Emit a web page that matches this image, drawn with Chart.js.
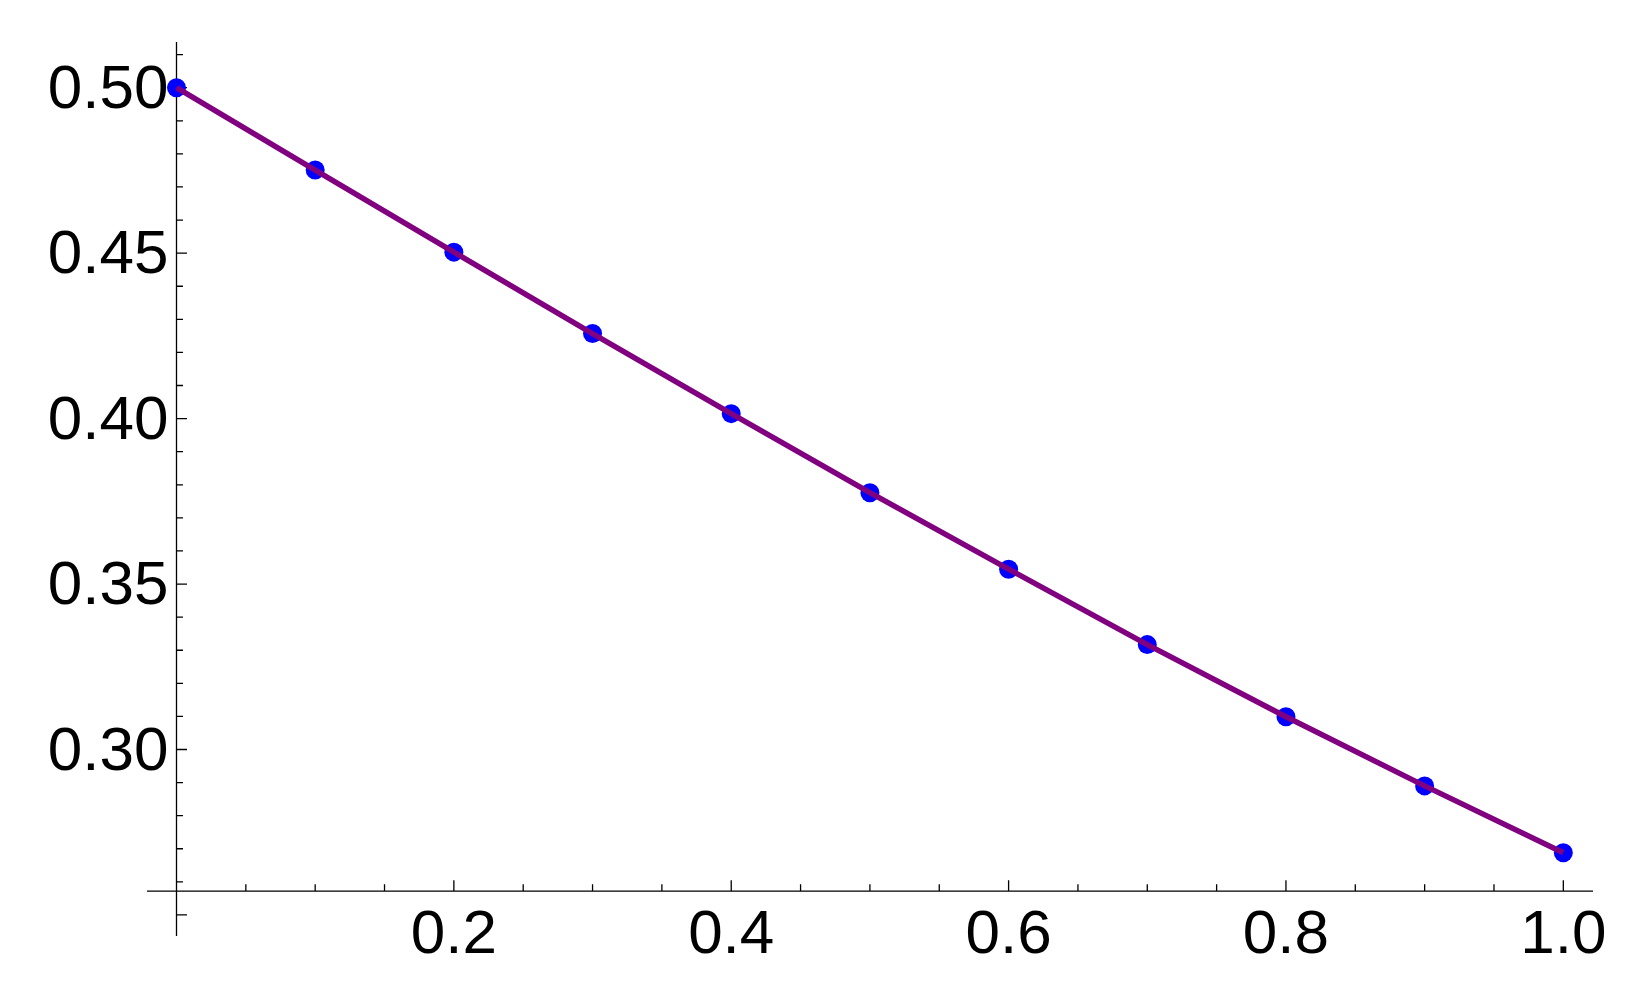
<!DOCTYPE html>
<html>
<head>
<meta charset="utf-8">
<script src="https://cdn.jsdelivr.net/npm/chart.js@4.4.1/dist/chart.umd.min.js"></script>
<style>
  html, body { margin: 0; padding: 0; background: #ffffff; }
  #wrap { width: 1639px; height: 996px; position: relative; }
</style>
</head>
<body>
<div id="wrap"><canvas id="chart"></canvas></div>
<script>
// sample points
const xValues = [0, 0.1, 0.2, 0.3, 0.4, 0.5, 0.6, 0.7, 0.8, 0.9, 1.0];
const yValues = [0.5000, 0.4751, 0.4503, 0.4257, 0.4015, 0.3776, 0.3545, 0.3317, 0.3099, 0.2890, 0.2688];

// axis ticks
const xMajorTicks = [0.2, 0.4, 0.6, 0.8, 1.0];
const xTickLabels = ['0.2', '0.4', '0.6', '0.8', '1.0'];
const xMinorTicks = [0.05, 0.1, 0.15, 0.25, 0.3, 0.35, 0.45, 0.5, 0.55, 0.65, 0.7, 0.75, 0.85, 0.9, 0.95];
const yMajorTicks = [0.25, 0.30, 0.35, 0.40, 0.45, 0.50];
const yTickLabels = ['', '0.30', '0.35', '0.40', '0.45', '0.50'];
const yMinorTicks = [0.26, 0.27, 0.28, 0.29, 0.31, 0.32, 0.33, 0.34, 0.36, 0.37, 0.38, 0.39,
                     0.41, 0.42, 0.43, 0.44, 0.46, 0.47, 0.48, 0.49, 0.51];

// where the two axes cross (Mathematica style)
const axisCrossX = 0;
const axisCrossY = 0.2572;

const points = xValues.map((x, i) => ({ x: x, y: yValues[i] }));

// draws axes, ticks and labels through the chart's own scales
const mathAxes = {
    id: 'mathAxes',
    beforeDatasetsDraw(chart) {
        const { ctx, scales: { x, y } } = chart;
        const ox = x.getPixelForValue(axisCrossX);
        const oy = y.getPixelForValue(axisCrossY);
        ctx.save();
        ctx.strokeStyle = '#000000';
        ctx.lineWidth = 1.3;
        ctx.beginPath();
        ctx.moveTo(x.left, oy);
        ctx.lineTo(x.right, oy);
        ctx.moveTo(ox, y.top);
        ctx.lineTo(ox, y.bottom);

        // x ticks point up into the plot
        xMajorTicks.forEach(v => {
            const px = x.getPixelForValue(v);
            ctx.moveTo(px, oy);
            ctx.lineTo(px, oy - 11);
        });
        xMinorTicks.forEach(v => {
            const px = x.getPixelForValue(v);
            ctx.moveTo(px, oy);
            ctx.lineTo(px, oy - 7);
        });
        // y ticks point right
        yMajorTicks.forEach(v => {
            const py = y.getPixelForValue(v);
            ctx.moveTo(ox, py);
            ctx.lineTo(ox + 10.5, py);
        });
        yMinorTicks.forEach(v => {
            const py = y.getPixelForValue(v);
            ctx.moveTo(ox, py);
            ctx.lineTo(ox + 6.5, py);
        });
        ctx.stroke();

        ctx.fillStyle = '#000000';
        ctx.font = '62px "Liberation Sans", Arial, sans-serif';
        ctx.textBaseline = 'alphabetic';
        ctx.textAlign = 'center';
        xMajorTicks.forEach((v, i) => {
            ctx.fillText(xTickLabels[i], x.getPixelForValue(v), oy + 62);
        });
        ctx.textAlign = 'right';
        yMajorTicks.forEach((v, i) => {
            if (!yTickLabels[i]) return;
            ctx.fillText(yTickLabels[i], ox - 8, y.getPixelForValue(v) + 20);
        });
        ctx.restore();
    }
};

const ctx = document.getElementById('chart').getContext('2d');
new Chart(ctx, {
    type: 'scatter',
    data: {
        datasets: [{
            label: 'fit',
            data: points,
            showLine: true,
            borderColor: '#800080',
            borderWidth: 5.5,
            pointRadius: 0,
            fill: false,
            order: 0
        }, {
            label: 'data',
            data: points,
            backgroundColor: '#0000ff',
            borderColor: '#0000ff',
            borderWidth: 0,
            pointRadius: 9.5,
            order: 1
        }]
    },
    options: {
        responsive: true,
        maintainAspectRatio: false,
        animation: false,
        events: [],
        layout: {
            autoPadding: false,
            padding: { left: 147, right: 46, top: 42, bottom: 60 }
        },
        plugins: {
            legend: { display: false },
            tooltip: { enabled: false }
        },
        scales: {
            x: { type: 'linear', min: -0.02127, max: 1.0214, display: false },
            y: { type: 'linear', min: 0.24364, max: 0.51381, display: false }
        }
    },
    plugins: [mathAxes]
});
</script>
</body>
</html>
